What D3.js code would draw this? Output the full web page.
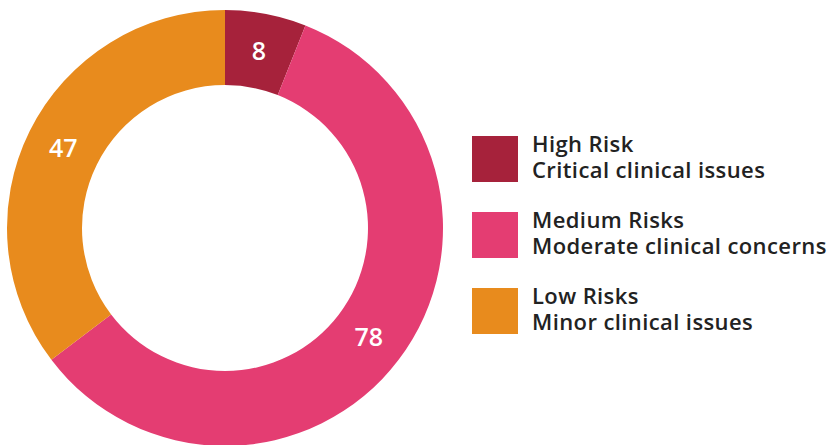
<!DOCTYPE html>
<html>
<head>
<meta charset="utf-8">
<script src="https://cdn.jsdelivr.net/npm/d3@7"></script>
<style>
  html, body { margin: 0; padding: 0; background: #fff; }
  svg { display: block; }
</style>
</head>
<body>
<svg id="chart" width="827" height="445"></svg>
<script>
// datos del gráfico
const categories = ["High Risk", "Medium Risks", "Low Risks"];
const subtitles = ["Critical clinical issues", "Moderate clinical concerns", "Minor clinical issues"];
const values = [8, 78, 47];
const colors = ["#A6223B", "#E43D72", "#E88B1D"];

const svg = d3.select("#chart");
const cx = 225, cy = 228;
const outerR = 218, innerR = 143;

const pie = d3.pie().sort(null).value(d => d)(values);
const arc = d3.arc().innerRadius(innerR).outerRadius(outerR);

const g = svg.append("g").attr("transform", `translate(${cx}, ${cy})`);

g.selectAll("path.slice")
    .data(pie)
    .enter()
    .append("path")
    .attr("class", "slice")
    .attr("d", arc)
    .style("fill", (d, i) => colors[i]);

// etiquetas de valor
g.selectAll("text.val")
    .data(pie)
    .enter()
    .append("text")
    .attr("class", "val")
    .attr("transform", d => `translate(${arc.centroid(d)})`)
    .attr("text-anchor", "middle")
    .attr("dy", "0.36em")
    .style("font-family", "'Open Sans', sans-serif")
    .style("font-weight", 600)
    .style("font-size", "25px")
    .style("fill", "#fff")
    .text(d => d.data);

// leyenda
const legend = svg.selectAll("g.legend")
    .data(categories)
    .enter()
    .append("g")
    .attr("class", "legend")
    .attr("transform", (d, i) => `translate(472, ${136 + i * 76})`);

legend.append("rect")
    .attr("width", 46)
    .attr("height", 46)
    .style("fill", (d, i) => colors[i]);

const lt = legend.append("text")
    .style("font-family", "'Open Sans', sans-serif")
    .style("font-weight", 600)
    .style("font-size", "22px")
    .style("letter-spacing", "0.4px")
    .style("fill", "#222");

lt.append("tspan").attr("x", 60).attr("y", 16).text(d => d);
lt.append("tspan").attr("x", 60).attr("y", 42).text((d, i) => subtitles[i]);
</script>
</body>
</html>
